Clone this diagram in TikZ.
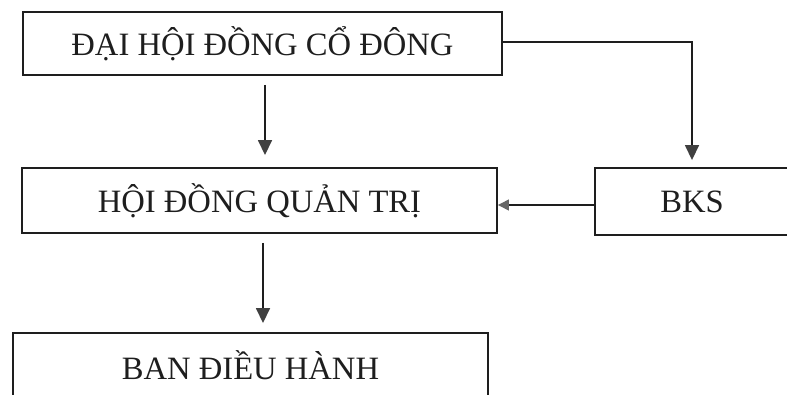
\documentclass[tikz,border=0pt]{standalone}
\usepackage{fontspec}
\setmainfont{Liberation Serif}
\usetikzlibrary{arrows.meta,calc}
\definecolor{ink}{HTML}{1E1E1E}
\definecolor{tipgray}{HTML}{404040}
\tikzset{
  orgbox/.style={draw=ink, line width=1.9pt, rectangle, inner sep=0pt, font=\fontsize{32.6}{38}\selectfont, text=ink},
  arr/.style={draw=ink, line width=1.6pt, -{Triangle[length=15pt,width=14pt,fill=tipgray,color=tipgray]}},
  arrsmall/.style={draw=ink, line width=1.4pt, -{Triangle[length=11pt,width=11pt,fill=tipgray!80,color=tipgray!80]}}
}
\begin{document}
\begin{tikzpicture}[x=1pt,y=-1pt]
\useasboundingbox (0,0) rectangle (787,394);
\clip (0,0) rectangle (787,394);
\fill[white] (0,0) rectangle (787,394);
\node[orgbox, minimum width=479pt, minimum height=63pt] (b1) at (262.5,43.5) {ĐẠI HỘI ĐỒNG CỔ ĐÔNG};
\node[orgbox, minimum width=475pt, minimum height=65pt] (b2) at (259.5,200.5) {HỘI ĐỒNG QUẢN TRỊ};
\node[orgbox, minimum width=194pt, minimum height=67pt] (bks) at (692,201.5) {BKS};
\node[orgbox, minimum width=475pt, minimum height=65pt] (b3) at (250.5,365.5) {BAN ĐIỀU HÀNH};
\coordinate (x1) at (265,0);
\coordinate (x2) at (263,0);
\draw[arr, shorten <=9pt, shorten >=12pt] (b1.south -| x1) -- (b2.north -| x1);
\draw[arr, shorten <=9pt, shorten >=9pt] (b2.south -| x2) -- (b3.north -| x2);
\draw[arr, shorten >=7pt] ([yshift=1.5pt]b1.east) -| (bks.north);
\draw[arrsmall] ([yshift=-3.5pt]bks.west) -- ([yshift=-4.5pt]b2.east);
\end{tikzpicture}
\end{document}
